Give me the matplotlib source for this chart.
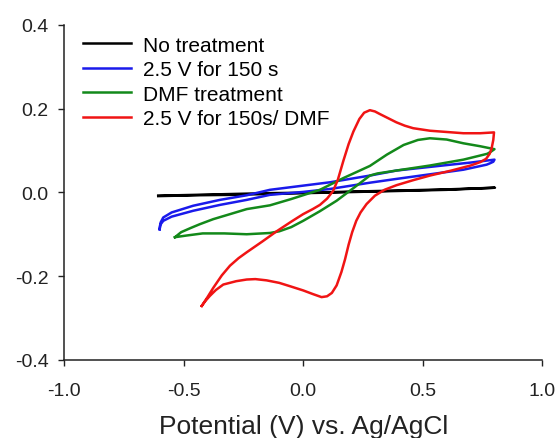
import matplotlib
matplotlib.use("Agg")
import matplotlib.pyplot as plt

plt.rcParams['font.family'] = ['Liberation Sans', 'DejaVu Sans']

# Данные (потенциал В, ток), обход петли по порядку
black_v = [-0.606, -0.45, -0.3, -0.15, 0.0, 0.15, 0.3, 0.45, 0.6, 0.802,
           0.6, 0.45, 0.3, 0.15, 0.0, -0.15, -0.3, -0.45, -0.606]
black_i = [-0.008, -0.006, -0.004, -0.002, -0.001, 0.001, 0.003, 0.005, 0.007, 0.011,
           0.006, 0.004, 0.002, 0.0, -0.002, -0.004, -0.006, -0.007, -0.009]

blue_v = [-0.600, -0.596, -0.585, -0.55, -0.46, -0.348, -0.236, -0.139, 0.0, 0.112,
          0.279, 0.39, 0.6, 0.70, 0.80, 0.795, 0.78, 0.767, 0.67, 0.53,
          0.39, 0.279, 0.112, 0.0, -0.139, -0.236, -0.348, -0.46, -0.55, -0.585,
          -0.598, -0.600]
blue_i = [-0.088, -0.072, -0.060, -0.048, -0.032, -0.018, -0.007, 0.006, 0.016, 0.024,
          0.040, 0.052, 0.065, 0.071, 0.078, 0.073, 0.069, 0.066, 0.054, 0.043,
          0.032, 0.023, 0.008, 0.001, -0.006, -0.018, -0.030, -0.044, -0.058, -0.068,
          -0.078, -0.088]

green_v = [-0.536, -0.51, -0.47, -0.432, -0.376, -0.30, -0.236, -0.139, -0.05, 0.07,
           0.168, 0.279, 0.35, 0.42, 0.48, 0.53, 0.60, 0.67, 0.74, 0.80,
           0.785, 0.77, 0.72, 0.67, 0.53, 0.39, 0.31, 0.279, 0.21, 0.14,
           0.07, 0.0, -0.05, -0.10, -0.139, -0.236, -0.33, -0.42, -0.487, -0.536]
green_i = [-0.107, -0.095, -0.085, -0.076, -0.064, -0.051, -0.040, -0.031, -0.016, 0.006,
           0.034, 0.063, 0.090, 0.113, 0.125, 0.129, 0.126, 0.117, 0.110, 0.103,
           0.097, 0.092, 0.085, 0.078, 0.064, 0.052, 0.045, 0.040, 0.010, -0.020,
           -0.045, -0.068, -0.083, -0.093, -0.097, -0.100, -0.098, -0.098, -0.103, -0.107]

red_v = [-0.424, -0.40, -0.376, -0.34, -0.306, -0.27, -0.236, -0.17, -0.111, -0.05,
         0.0, 0.04, 0.07, 0.10, 0.125, 0.145, 0.168, 0.19, 0.21, 0.235,
         0.255, 0.279, 0.30, 0.32, 0.355, 0.39, 0.425, 0.46, 0.53, 0.60,
         0.67, 0.74, 0.798, 0.795, 0.788, 0.78, 0.765, 0.74, 0.70, 0.62,
         0.53, 0.46, 0.39, 0.34, 0.30, 0.265, 0.24, 0.222, 0.205, 0.19,
         0.175, 0.16, 0.14, 0.12, 0.10, 0.077, 0.042, 0.0, -0.055, -0.10,
         -0.153, -0.20, -0.236, -0.28, -0.334, -0.365, -0.39, -0.41, -0.424]
red_i = [-0.271, -0.250, -0.228, -0.198, -0.175, -0.157, -0.143, -0.117, -0.093, -0.070,
         -0.052, -0.040, -0.030, -0.015, 0.003, 0.030, 0.075, 0.115, 0.145, 0.175,
         0.190, 0.196, 0.193, 0.187, 0.177, 0.167, 0.159, 0.153, 0.147, 0.144,
         0.141, 0.141, 0.143, 0.125, 0.105, 0.092, 0.080, 0.072, 0.064, 0.052,
         0.040, 0.029, 0.017, 0.006, -0.008, -0.028, -0.048, -0.068, -0.095, -0.125,
         -0.160, -0.190, -0.222, -0.240, -0.248, -0.250, -0.243, -0.234, -0.224, -0.216,
         -0.210, -0.207, -0.208, -0.212, -0.220, -0.233, -0.247, -0.260, -0.271]

labels = ['No treatment', '2.5 V for 150 s', 'DMF treatment', '2.5 V for 150s/ DMF']
colors = ['black', '#1a1aeb', '#13891a', '#f01414']

fig = plt.figure(figsize=(5.58, 4.39), dpi=100)
ax = fig.add_axes([0.1147, 0.1777, 0.8572, 0.7638])

for v, i, lab, c in zip([black_v, blue_v, green_v, red_v],
                        [black_i, blue_i, green_i, red_i], labels, colors):
    ax.plot(v, i, color=c, linewidth=1.8, label=lab, solid_joinstyle='round')

ax.set_xlim(-1.0, 1.0)
ax.set_ylim(-0.4, 0.4)
ax.set_xticks([-1.0, -0.5, 0.0, 0.5, 1.0])
ax.set_yticks([-0.4, -0.2, 0.0, 0.2, 0.4])
ax.set_xticklabels(['-1.0', '-0.5', '0.0', '0.5', '1.0'])
ax.set_yticklabels(['-0.4', '-0.2', '0.0', '0.2', '0.4'])
ax.spines['top'].set_visible(False)
ax.spines['right'].set_visible(False)
for s in ['left', 'bottom']:
    ax.spines[s].set_linewidth(1.1)
    ax.spines[s].set_color('#222222')
ax.tick_params(direction='out', length=4, width=1.0, labelsize=14, colors='#222222')
ax.tick_params(axis='x', pad=12)
ax.tick_params(axis='y', pad=7)

ax.set_xlabel("Potential (V) vs. Ag/AgCl", fontsize=19, labelpad=11, color='#222222')

ax.legend(loc='upper left', bbox_to_anchor=(0.039, 0.967), frameon=False,
          fontsize=15, handlelength=2.3, handletextpad=0.6, labelspacing=0.26,
          borderpad=0, borderaxespad=0)

plt.savefig("out.png", dpi=100)
